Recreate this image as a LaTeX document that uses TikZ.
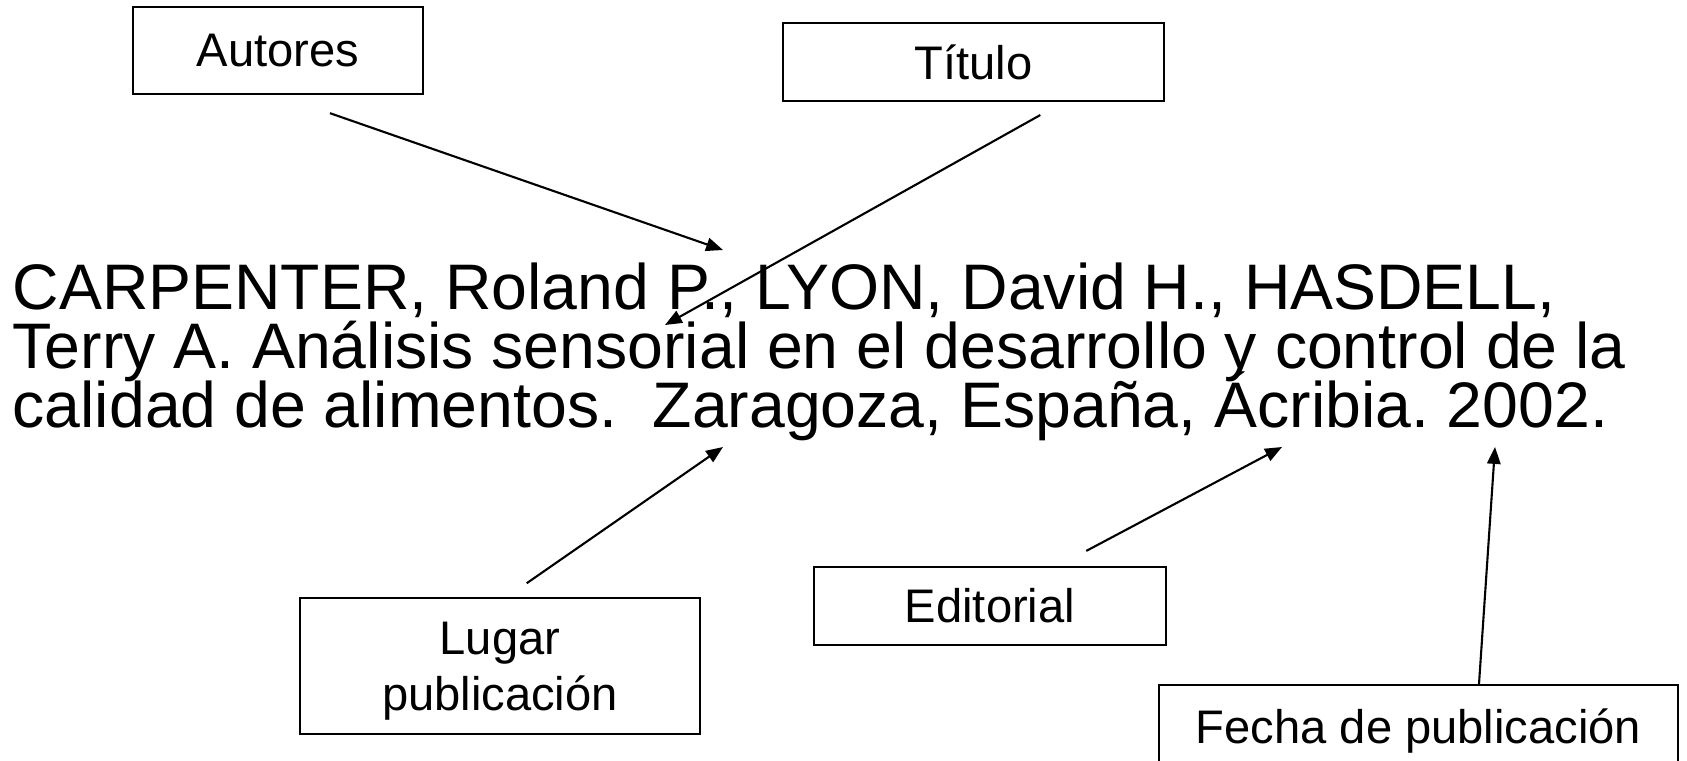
\documentclass[tikz,border=0pt]{standalone}
\usepackage{fontspec}
\setmainfont{Liberation Sans}
\usetikzlibrary{calc,arrows.meta}
\frenchspacing

\begin{document}
\begin{tikzpicture}[x=0.01cm,y=-0.01cm,
  caja/.style={draw,line width=0.6pt,inner sep=0pt,font=\fontsize{13.4}{15.9}\selectfont,align=center},
  linea/.style={inner sep=0pt,anchor=base west,font=\fontsize{18.3}{16.8}\selectfont},
  flecha/.style={line width=0.6pt,-{Triangle[length=4.8pt,width=3.8pt]}}]
\useasboundingbox (0,0) rectangle (1687,760);

% cita
\node[linea] (l1) at (12,309) {CARPENTER, Roland P., LYON, David H., HASDELL,};
\node[linea] (l2) at (12,368) {Terry A. Análisis sensorial en el desarrollo y control de la};
\node[linea] (l3) at (12,427) {calidad de alimentos.\ \ Zaragoza, España, Ácribia. 2002.};

% cajas
\node[caja,minimum width=2.9cm,minimum height=0.87cm] (autores) at (278,50.5) {Autores};
\node[caja,minimum width=3.81cm,minimum height=0.785cm] (titulo) at (973.5,62) {Título};
\node[caja,minimum width=4cm,minimum height=1.36cm,text depth=0pt] (lugar) at (500,666) {Lugar\\publicación};
\node[caja,minimum width=3.52cm,minimum height=0.78cm] (editorial) at (990,606) {Editorial};
\node[caja,minimum width=5.19cm,anchor=north,text height=0.58cm,text depth=1cm] (fecha) at (1418.5,684) {Fecha de publicación};

% puntas
\coordinate (pAut) at (723,250);
\coordinate (pTit) at (665,325);
\coordinate (pLug) at (723,447);
\coordinate (pEdi) at (1282,447);
\coordinate (pFec) at (1495,447);

\draw[flecha,shorten <=0.55cm] (autores.south) -- (pAut);
\draw[flecha,shorten <=0.26cm] ($(titulo.south)+(89.5,0)$) -- (pTit);
\draw[flecha,shorten <=0.24cm] ($(lugar.north)+(7,0)$) -- (pLug);
\draw[flecha,shorten <=0.32cm] ($(editorial.north)+(68,0)$) -- (pEdi);
\draw[flecha] ($(fecha.north)+(60.5,0)$) -- (pFec);

\end{tikzpicture}
\end{document}
